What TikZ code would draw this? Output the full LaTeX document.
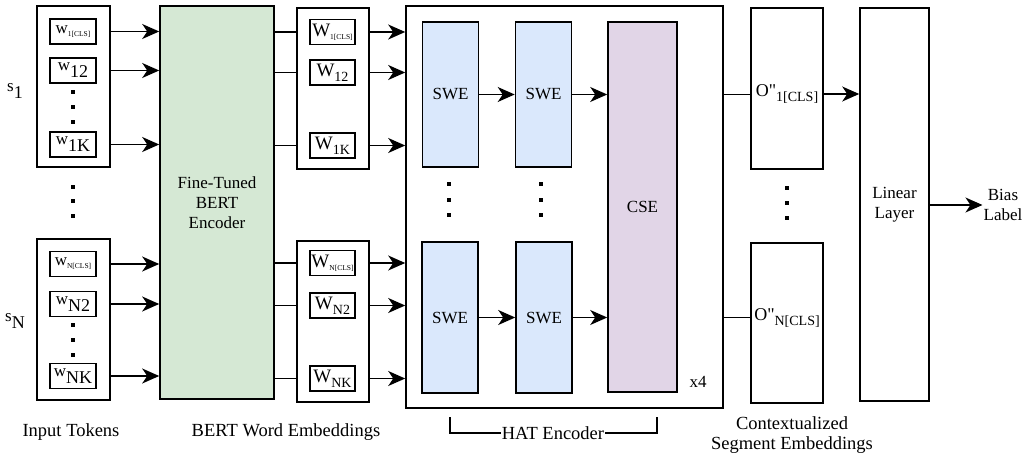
\documentclass[tikz,border=0pt]{standalone}
\usepackage{fontspec}
\setmainfont{Liberation Serif}
\usetikzlibrary{arrows.meta,positioning}

% subscripts of three sizes, lowered below the letter
\newcommand{\bigsub}[2]{#1\raisebox{-7pt}{\fontsize{18}{18}\selectfont #2}}
\newcommand{\midsub}[2]{#1\raisebox{-5pt}{\fontsize{14}{14}\selectfont #2}}
\newcommand{\tinysub}[2]{#1\raisebox{-3pt}{\fontsize{7.5}{7.5}\selectfont #2}}

\definecolor{bertgreen}{HTML}{D5E8D4}
\definecolor{swebl}{HTML}{DAE8FC}
\definecolor{csepink}{HTML}{E1D5E7}

\tikzset{
  blk/.style={draw, line width=1.6pt, inner sep=0pt, align=center},
  tok/.style={blk, minimum width=46, minimum height=25, font=\fontsize{17}{17}\selectfont},
  emb/.style={tok, minimum width=45, font=\fontsize{19}{19}\selectfont},
  ln/.style={line width=1.4pt},
  arr/.style={ln, -{Stealth[length=17pt,width=15pt,inset=5pt]}},
}

\begin{document}
\begin{tikzpicture}[x=1pt,y=-1pt,font=\fontsize{17}{20}\selectfont]
\useasboundingbox (0,0) rectangle (1022,454);

% input tokens
\node[blk, minimum width=73, minimum height=161] (in1) at (73.5,86.5) {};
\node[blk, minimum width=73, minimum height=161] (inN) at (73.5,319.5) {};
\node[tok] (w11) at (73,31.5) {\tinysub{w}{1[CLS]}};
\node[tok] (w12) at (73,70.5) {\bigsub{w}{12}};
\node[tok] (w1K) at (73,144.5) {\bigsub{w}{1K}};
\node[tok] (wN1) at (73,264) {\tinysub{w}{N[CLS]}};
\node[tok] (wN2) at (73,304) {\bigsub{w}{N2}};
\node[tok] (wNK) at (73,376) {\bigsub{w}{NK}};

\node (s1) at (15,91) {\bigsub{s}{1}};
\node (sN) at (15,321) {\bigsub{s}{N}};

% encoder
\node[blk, fill=bertgreen, minimum width=114, minimum height=393] (bert) at (217,202.5) {Fine-Tuned\\BERT\\Encoder};

% word embeddings
\node[blk, minimum width=72, minimum height=161] (emb1) at (333,88.5) {};
\node[blk, minimum width=72, minimum height=161] (embN) at (333,321.5) {};
\node[emb] (W11) at (332.5,32) {\tinysub{W}{1[CLS]}};
\node[emb] (W12) at (332.5,72.5) {\midsub{W}{12}};
\node[emb] (W1K) at (332.5,145.5) {\midsub{W}{1K}};
\node[emb] (WN1) at (332.5,263) {\tinysub{W}{N[CLS]}};
\node[emb] (WN2) at (332.5,305.5) {\midsub{W}{N2}};
\node[emb] (WNK) at (332.5,378.5) {\midsub{W}{NK}};

% HAT encoder
\node[blk, minimum width=317, minimum height=402] (hat) at (564.5,207) {};
\node[blk, fill=swebl, minimum width=56, minimum height=145] (sa1) at (450.5,94.5) {SWE};
\node[blk, fill=swebl, minimum width=56, minimum height=145] (sb1) at (543.5,94.5) {SWE};
\node[blk, fill=swebl, minimum width=56, minimum height=151] (saN) at (450,317.5) {SWE};
\node[blk, fill=swebl, minimum width=56, minimum height=151] (sbN) at (544,317.5) {SWE};
\node[blk, fill=csepink, minimum width=69, minimum height=370] (cse) at (642.5,207) {CSE};
\node (rep) at (698,382) {x4};

% segment embeddings and output
\node[blk, minimum width=72, minimum height=161] (o1) at (787,88.5) {};
\node[blk, minimum width=72, minimum height=160] (oN) at (787,323) {};
\node[inner sep=0pt] (o1t) at (787,94) {\midsub{\fontsize{18}{18}\selectfont O\textquotedbl}{1[CLS]}};
\node[inner sep=0pt] (oNt) at (787,318) {\midsub{\fontsize{18}{18}\selectfont O\textquotedbl}{N[CLS]}};
\node[blk, minimum width=69, minimum height=393] (lin) at (894.5,204.5) {Linear\\Layer};
\node[align=center, inner sep=1pt] (bias) at (1003,205) {Bias\\Label};

% vertical dots
\foreach \x/\y in {73/92,73/107,73/122, 73/187,73/201,73/216, 73/325,73/340,73/355,
                   449/184,449/200,449/215, 541/184,541/200,541/215, 787/188,787/203,787/218}
  \fill (\x-2,\y-2) rectangle (\x+2,\y+2);

% connectors
\foreach \t in {w11,w12,w1K}
  \draw[arr] (\t -| in1.east) -- (\t -| bert.west);
\foreach \t in {wN1,wN2,wNK}
  \draw[arr] (\t -| inN.east) -- (\t -| bert.west);
\foreach \t in {W11,W12,W1K}{
  \draw[ln] (\t -| bert.east) -- (\t -| emb1.west);
  \draw[arr] (\t -| emb1.east) -- (\t -| hat.west);
}
\foreach \t in {WN1,WN2,WNK}{
  \draw[ln] (\t -| bert.east) -- (\t -| embN.west);
  \draw[arr] (\t -| embN.east) -- (\t -| hat.west);
}
\draw[arr] (sa1.east) -- (sb1.west);
\draw[arr] (sb1.east) -- (sb1 -| cse.west);
\draw[arr] (saN.east) -- (sbN.west);
\draw[arr] (sbN.east) -- (sbN -| cse.west);
\draw[ln] (sb1 -| hat.east) -- (sb1 -| o1.west);
\draw[ln] (sbN -| hat.east) -- (sbN -| oN.west);
\draw[arr] (o1t -| o1.east) -- (o1t -| lin.west);
\draw[arr] (lin.east |- bias) -- (bias.west);

% captions
\node[font=\fontsize{18.5}{20}\selectfont] (capin) at (71,432) {Input Tokens};
\node[font=\fontsize{18.5}{20}\selectfont] (capemb) at (286,432) {BERT Word Embeddings};
\node[font=\fontsize{18.5}{20}\selectfont, align=center] (capseg) at (792,435) {Contextualized\\Segment Embeddings};
\coordinate (brl) at (450,417);
\coordinate (brr) at (657,417);
\draw[ln] (brl) -- ++(0,16) -| (brr);
\node[fill=white, inner sep=1pt, font=\fontsize{18.5}{20}\selectfont] (caphat) at (553,433) {HAT Encoder};
\end{tikzpicture}
\end{document}
